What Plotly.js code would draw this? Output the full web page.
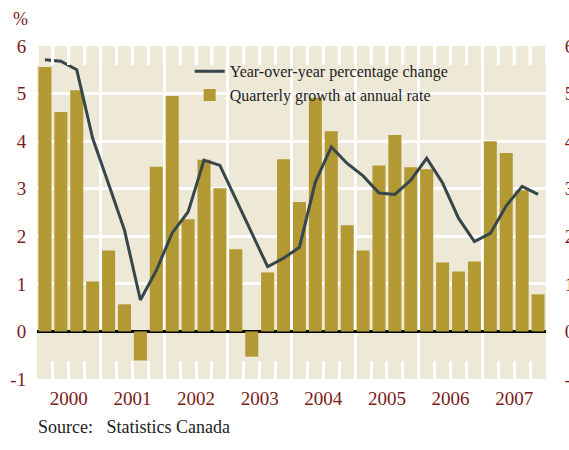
<!DOCTYPE html>
<html>
<head>
<meta charset="utf-8">
<script src="https://cdn.plot.ly/plotly-3.0.1.min.js"></script>
<style>
  html, body { margin: 0; padding: 0; background: #fff; }
  #chart { width: 569px; height: 450px; }
</style>
</head>
<body>
<div id="chart"></div>
<script>
// quarterly data 2000Q1 .. 2007Q4
const years = ["2000", "2001", "2002", "2003", "2004", "2005", "2006", "2007"];
const quarterlyGrowth = [
    5.56, 4.61, 5.07, 1.05,
    1.70, 0.57, -0.61, 3.46,
    4.95, 2.36, 3.61, 3.01,
    1.73, -0.53, 1.24, 3.62,
    2.72, 4.91, 4.21, 2.23,
    1.70, 3.49, 4.13, 3.45,
    3.41, 1.45, 1.26, 1.47,
    4.00, 3.75, 2.97, 0.78
];
const yoyChange = [
    5.71, 5.68, 5.50, 4.06,
    3.10, 2.13, 0.66, 1.28,
    2.07, 2.51, 3.60, 3.49,
    2.78, 2.06, 1.36, 1.54,
    1.77, 3.14, 3.88, 3.53,
    3.27, 2.91, 2.88, 3.18,
    3.64, 3.12, 2.38, 1.89,
    2.06, 2.64, 3.05, 2.88
];
const yTicks = [-1, 0, 1, 2, 3, 4, 5, 6];
const yTickText = yTicks.map(String); // plain hyphen for "-1"

const qIndex = quarterlyGrowth.map((v, i) => i);
const yearCenters = years.map((y, i) => i * 4 + 1.5);
const yearBounds = years.map((y, i) => i * 4 - 0.5);
const xRange = [-0.5, quarterlyGrowth.length - 0.5];

const serif = "Liberation Serif, DejaVu Serif, serif";
const red = "#7b1a1a";

const data = [
    {
        type: "scatter",
        mode: "lines",
        name: "Year-over-year percentage change",
        x: qIndex,
        y: yoyChange,
        line: { color: "#36464a", width: 3 },
    },
    {
        type: "bar",
        name: "Quarterly growth at annual rate",
        x: qIndex,
        y: quarterlyGrowth,
        marker: { color: "#b39934" },
    },
    {
        // invisible trace, year labels + right labels
        type: "scatter",
        mode: "none",
        x: xRange,
        y: [0, 0],
        xaxis: "x2",
        yaxis: "y2",
        showlegend: false,
        hoverinfo: "skip",
    },
    {
        // invisible trace, quarter ticks hanging from the top edge
        type: "scatter",
        mode: "none",
        x: xRange,
        y: [0, 0],
        xaxis: "x3",
        yaxis: "y2",
        showlegend: false,
        hoverinfo: "skip",
    },
];

// same separators as shapes, in case the free axis is not drawn
const topTicks = qIndex.map(i => ({
    type: "line",
    xref: "x", yref: "paper",
    x0: i - 0.5, x1: i - 0.5,
    y0: 1, y1: 1 - 18 / 333,
    line: { color: "#ffffff", width: 3 },
    layer: "between",
}));

const quarterTicks = {
    range: xRange,
    tick0: -0.5,
    dtick: 1,
    ticklen: 18,
    tickwidth: 3,
    tickcolor: "#ffffff",
    showgrid: false,
    zeroline: false,
    showticklabels: false,
};

const layout = {
    width: 569,
    height: 450,
    margin: { l: 37, r: 23, t: 46, b: 71 },
    paper_bgcolor: "#ffffff",
    plot_bgcolor: "#eee9d7",
    bargap: 0.18,
    showlegend: true,
    legend: {
        x: 0.3, y: 0.975,
        xanchor: "left", yanchor: "top",
        bgcolor: "rgba(0,0,0,0)",
        font: { family: serif, size: 16, color: "#222" },
        tracegroupgap: 0,
        itemwidth: 30,
        traceorder: "normal",
    },
    // quarter ticks along the bottom
    xaxis: Object.assign({ ticks: "inside" }, quarterTicks),
    // year labels and year separators
    xaxis2: {
        overlaying: "x",
        side: "bottom",
        anchor: "y2",
        range: xRange,
        tickvals: yearCenters,
        ticktext: years,
        showgrid: false,
        zeroline: false,
        ticks: "outside",
        ticklen: 2,
        tickcolor: "rgba(0,0,0,0)",
        tickfont: { family: serif, size: 19, color: red },
        minor: {
            tickmode: "array",
            tickvals: yearBounds,
            showgrid: true,
            gridcolor: "#ffffff",
            gridwidth: 3,
            ticks: "",
        },
    },
    // free axis sitting on the top edge, ticks pointing down into the plot
    xaxis3: Object.assign({
        overlaying: "x",
        anchor: "free",
        position: 1,
        side: "bottom",
        ticks: "outside",
    }, quarterTicks),
    yaxis: {
        range: [-1, 6],
        tickvals: yTicks,
        ticktext: yTickText,
        showgrid: true,
        gridcolor: "#ffffff",
        gridwidth: 3,
        zeroline: true,
        zerolinecolor: "#000000",
        zerolinewidth: 3,
        ticks: "outside",
        ticklen: 6,
        tickcolor: "rgba(0,0,0,0)",
        tickfont: { family: serif, size: 19, color: red },
    },
    yaxis2: {
        overlaying: "y",
        side: "right",
        range: [-1, 6],
        tickvals: yTicks,
        ticktext: yTickText,
        showgrid: false,
        zeroline: false,
        ticks: "outside",
        ticklen: 14,
        tickcolor: "rgba(0,0,0,0)",
        tickfont: { family: serif, size: 19, color: red },
    },
    shapes: topTicks,
    annotations: [
        {
            text: "%",
            xref: "paper", yref: "paper",
            x: -0.033, y: 1.045,
            xanchor: "center", yanchor: "bottom",
            showarrow: false,
            font: { family: serif, size: 18, color: red },
        },
        {
            text: "Source:   Statistics Canada",
            xref: "paper", yref: "paper",
            x: -0.002, y: -0.108,
            xanchor: "left", yanchor: "top",
            showarrow: false,
            font: { family: serif, size: 18, color: "#222" },
        },
    ],
};

Plotly.newPlot("chart", data, layout, { displayModeBar: false, staticPlot: true });
</script>
</body>
</html>
